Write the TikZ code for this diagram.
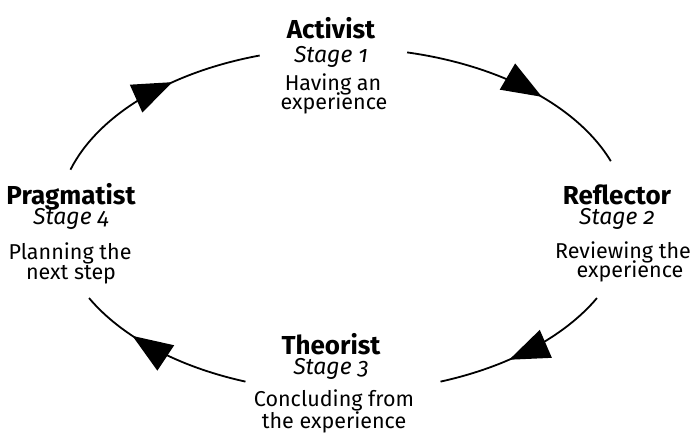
\documentclass[tikz,border=0pt]{standalone}
\usepackage{fontspec}
\setmainfont{Fira Sans}[Numbers=OldStyle]
\usetikzlibrary{arrows.meta,decorations.markings}
\setlength{\lineskiplimit}{-100pt}
\newcommand\ttlfont{\fontsize{26}{20}\selectfont\bfseries}
\newcommand\stgfont{\fontsize{23}{20}\selectfont\itshape}
\tikzset{
  grp/.style={anchor=base,inner sep=0pt,align=center,font=\fontsize{23}{20}\selectfont},
  dsc/.style={anchor=base,inner sep=0pt,font=\fontsize{21.5}{24}\selectfont},
  cyc/.style={line width=1.8pt,postaction={decorate},
    decoration={markings,mark=at position #1 with {\arrow{Triangle[length=40pt,width=30pt]}}}}
}
\begin{document}
\begin{tikzpicture}[x=1pt,y=1pt]
\useasboundingbox (0,0) rectangle (694,443);
\coordinate (c) at (343,223);
% Activist
\node[grp] (a1) at (331,380) {{\ttlfont Activist}\\[4pt]{\stgfont Stage 1}};
\node[dsc] (a3) at (333,352) {Having an};
\node[dsc] (a4) at (334,333) {experience};
% Reflector
\node[grp] (r1) at (617,218) {{\ttlfont Reflector}\\{\stgfont Stage 2}};
\node[dsc] (r3) at (623,184) {Reviewing the};
\node[dsc] (r4) at (630,165) {experience};
% Theorist
\node[grp] (t1) at (331,68) {{\ttlfont Theorist}\\{\stgfont Stage 3}};
\node[dsc] (t3) at (334,36) {Concluding from};
\node[dsc] (t4) at (334,14) {the experience};
% Pragmatist
\node[grp] (p1) at (71,218) {{\ttlfont Pragmatist}\\{\stgfont Stage 4}};
\node[dsc] (p3) at (70,183) {Planning the};
\node[dsc] (p4) at (71,163) {next step};
% cycle arcs
\draw[cyc=0.6] ([shift={(163:285pt and 172pt)}]c) arc[start angle=163,end angle=107,x radius=285pt,y radius=172pt];
\draw[cyc=0.6] ([shift={(77:285pt and 172pt)}]c) arc[start angle=77,end angle=20,x radius=285pt,y radius=172pt];
\draw[cyc=0.6] ([shift={(-27:285pt and 172pt)}]c) arc[start angle=-27,end angle=-70,x radius=285pt,y radius=172pt];
\draw[cyc=0.68] ([shift={(-110:285pt and 172pt)}]c) arc[start angle=-110,end angle=-153,x radius=285pt,y radius=172pt];
\end{tikzpicture}
\end{document}
